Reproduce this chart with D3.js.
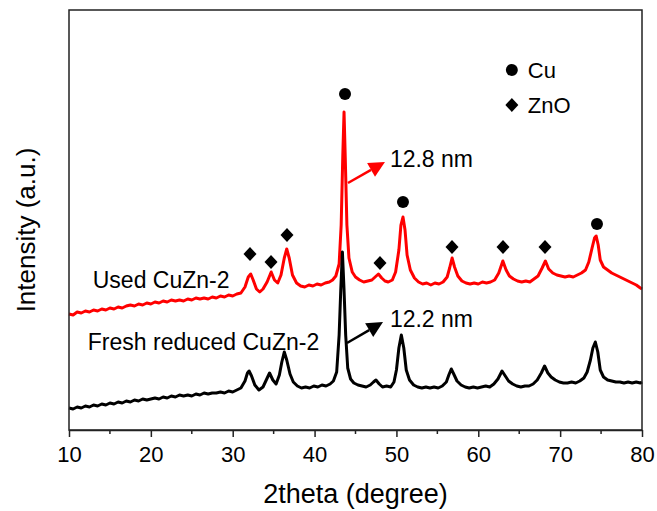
<!DOCTYPE html>
<html>
<head>
<meta charset="utf-8">
<script src="https://cdn.jsdelivr.net/npm/d3@7"></script>
<style>
  body { margin: 0; background: #fff; }
  svg text { font-family: "Liberation Sans", Arial, sans-serif; fill: #000; }
</style>
</head>
<body>
<svg id="xrd_chart"></svg>
<script>
// 2theta / intensity pairs (intensity in arbitrary units)
const usedPattern = [
  [10,116],[10.5,115],[11,118],[11.5,117],[12,119],[12.5,118],[13,120],[13.5,119],[14,121],[14.5,120],
  [15,122],[15.5,121],[16,123],[16.5,122],[17,124],[17.5,125],[18,124],[18.5,126],[19,125],[19.5,127],
  [20,126],[20.5,128],[21,127],[21.5,129],[22,128],[22.5,130],[23,129],[23.5,130],[24,129],[24.5,131],
  [25,130],[25.5,132],[26,131],[26.5,132],[27,131],[27.5,133],[28,132],[28.5,134],[29,133],[29.5,135],
  [30,134],[30.5,136],[31,137],[31.5,143],[31.9,153],[32.2,156],[32.5,150],[32.9,141],[33.3,138],[33.7,141],
  [34.2,148],[34.7,158],[35.1,150],[35.5,147],[35.9,155],[36.3,172],[36.6,181],[36.9,172],[37.3,155],[37.8,147],
  [38.3,144],[38.8,143],[39.3,145],[39.8,144],[40.3,146],[40.8,145],[41.3,147],[41.8,148],[42.2,150],[42.6,154],
  [43.0,166],[43.25,205],[43.45,275],[43.6,318],[43.75,272],[43.95,205],[44.2,172],[44.6,158],[45.0,153],[45.5,150],
  [46,148],[46.5,149],[47,150],[47.4,153],[47.8,156],[48.2,152],[48.6,149],[49,148],[49.5,150],[49.9,158],
  [50.3,180],[50.55,205],[50.8,213],[51.05,200],[51.3,175],[51.7,160],[52.2,152],[52.7,148],[53.2,146],[53.7,147],
  [54.2,145],[54.7,147],[55.2,146],[55.7,148],[56.2,153],[56.5,162],[56.8,172],[57.1,163],[57.5,154],[58,149],
  [58.5,147],[59,146],[59.5,147],[60,146],[60.5,148],[61,147],[61.5,148],[62,150],[62.5,157],[63.0,169],
  [63.4,160],[63.8,154],[64.3,151],[64.8,149],[65.3,148],[65.8,149],[66.3,148],[66.8,151],[67.3,154],[67.8,162],
  [68.2,169],[68.6,161],[69.1,157],[69.6,155],[70.1,154],[70.6,153],[71.1,154],[71.6,153],[72.1,155],[72.6,157],
  [73.1,160],[73.5,168],[73.9,182],[74.2,192],[74.4,194],[74.65,185],[74.9,170],[75.3,163],[75.8,160],[76.3,157],
  [76.8,155],[77.3,153],[77.8,151],[78.3,149],[78.8,147],[79.3,145],[79.8,142],[80,141]
];
const freshPattern = [
  [10,22],[10.5,21],[11,23],[11.5,22],[12,24],[12.5,23],[13,25],[13.5,24],[14,26],[14.5,25],
  [15,27],[15.5,26],[16,28],[16.5,27],[17,29],[17.5,28],[18,30],[18.5,29],[19,31],[19.5,30],
  [20,31],[20.5,32],[21,31],[21.5,33],[22,32],[22.5,34],[23,33],[23.5,35],[24,34],[24.5,35],
  [25,34],[25.5,36],[26,35],[26.5,37],[27,36],[27.5,37],[28,37],[28.5,38],[29,37],[29.5,39],
  [30,38],[30.5,40],[31,42],[31.5,49],[31.8,57],[32.0,59],[32.3,54],[32.7,45],[33.2,40],[33.7,43],
  [34.1,50],[34.5,57],[34.9,50],[35.3,46],[35.7,55],[36.0,68],[36.3,78],[36.6,70],[37.0,56],[37.4,48],
  [37.9,44],[38.4,42],[38.9,43],[39.4,42],[39.9,44],[40.4,43],[40.9,45],[41.4,44],[41.9,46],[42.3,49],
  [42.7,58],[43.0,95],[43.2,140],[43.4,178],[43.6,140],[43.8,95],[44.05,62],[44.4,51],[44.8,47],[45.3,45],
  [45.8,44],[46.3,43],[46.8,45],[47.2,48],[47.5,50],[47.9,46],[48.3,43],[48.8,44],[49.3,43],[49.7,48],
  [50.0,60],[50.3,82],[50.6,95],[50.9,82],[51.2,60],[51.6,50],[52.1,45],[52.6,43],[53.1,42],[53.6,43],
  [54.1,42],[54.6,43],[55.1,42],[55.6,44],[56.1,48],[56.4,55],[56.7,61],[57.0,56],[57.4,49],[57.9,45],
  [58.4,43],[58.9,42],[59.4,43],[59.9,42],[60.4,43],[60.9,44],[61.4,43],[61.9,46],[62.4,51],[62.9,59],
  [63.3,54],[63.7,49],[64.2,46],[64.7,44],[65.2,43],[65.7,44],[66.2,44],[66.7,46],[67.2,50],[67.7,57],
  [68.1,64],[68.5,57],[68.9,53],[69.4,50],[69.9,48],[70.4,47],[70.9,47],[71.4,48],[71.9,47],[72.4,49],
  [72.9,52],[73.3,58],[73.7,70],[74.0,82],[74.3,88],[74.6,78],[74.9,60],[75.3,53],[75.8,50],[76.3,49],
  [76.8,48],[77.3,48],[77.8,47],[78.3,48],[78.8,47],[79.3,48],[79.8,47],[80,48]
];

// phase markers above the peaks
const cuPeaks = [[43.72,336],[50.8,228],[74.5,206]];
const znoPeaks = [[32.11,176],[34.68,168],[36.63,195],[47.99,167],[56.79,183],[63.02,183],[68.15,183]];

const xMajorTicks = [10,20,30,40,50,60,70,80];
const xMinorTicks = [15,25,35,45,55,65,75];

// text labels and crystallite size arrows
const sampleLabels = [
  {text: "Used CuZn-2", theta: 12.9, inten: 142},
  {text: "Fresh reduced CuZn-2", theta: 12.3, inten: 80}
];
const sizeArrows = [
  {text: "12.8 nm", from: [44.08,247], to: [48.6,268], label: [49.2,263], color: "#ff0000"},
  {text: "12.2 nm", from: [43.96,87], to: [48.36,108], label: [49.2,103], color: "#000"}
];
const legendItems = [
  {text: "Cu", shape: "circle", theta: 64.1, inten: 360},
  {text: "ZnO", shape: "diamond", theta: 64.1, inten: 325}
];

const W = 657, H = 511;
const margin = {top: 10, right: 15, bottom: 81, left: 69};

const svg = d3.select("#xrd_chart").attr("width", W).attr("height", H);

const x = d3.scaleLinear().domain([10, 80]).range([margin.left, W - margin.right]);
const y = d3.scaleLinear().domain([0, 420]).range([H - margin.bottom, margin.top]);

const line = d3.line().x(d => x(d[0])).y(d => y(d[1]));

svg.append("path")
  .datum(usedPattern)
  .attr("d", line)
  .attr("fill", "none")
  .attr("stroke", "#ff0000")
  .attr("stroke-width", 3)
  .attr("stroke-linejoin", "round");

svg.append("path")
  .datum(freshPattern)
  .attr("d", line)
  .attr("fill", "none")
  .attr("stroke", "#000")
  .attr("stroke-width", 3)
  .attr("stroke-linejoin", "round");

function diamond(cx, cy) {
  const hw = 6.5, hh = 7;
  return `M${cx},${cy - hh}L${cx + hw},${cy}L${cx},${cy + hh}L${cx - hw},${cy}Z`;
}

svg.append("g").selectAll("circle")
  .data(cuPeaks)
  .join("circle")
  .attr("cx", d => x(d[0]))
  .attr("cy", d => y(d[1]))
  .attr("r", 6)
  .attr("fill", "#000");

svg.append("g").selectAll("path")
  .data(znoPeaks)
  .join("path")
  .attr("d", d => diamond(x(d[0]), y(d[1])))
  .attr("fill", "#000");

// legend
const leg = svg.append("g");
legendItems.forEach(it => {
  const cx = x(it.theta), cy = y(it.inten);
  if (it.shape === "circle") {
    leg.append("circle").attr("cx", cx).attr("cy", cy).attr("r", 6).attr("fill", "#000");
  } else {
    leg.append("path").attr("d", diamond(cx, cy)).attr("fill", "#000");
  }
  leg.append("text")
    .attr("x", cx + 16)
    .attr("y", cy + 8)
    .attr("font-size", 22)
    .text(it.text);
});

svg.append("g").selectAll("text")
  .data(sampleLabels)
  .join("text")
  .attr("x", d => x(d.theta))
  .attr("y", d => y(d.inten))
  .attr("font-size", 23)
  .text(d => d.text);

// arrows with filled heads
sizeArrows.forEach(a => {
  const x1 = x(a.from[0]), y1 = y(a.from[1]);
  const x2 = x(a.to[0]), y2 = y(a.to[1]);
  const ang = Math.atan2(y2 - y1, x2 - x1);
  const headLen = 16, headHalf = 8;
  const bx = x2 - headLen * Math.cos(ang), by = y2 - headLen * Math.sin(ang);
  svg.append("line")
    .attr("x1", x1).attr("y1", y1)
    .attr("x2", bx).attr("y2", by)
    .attr("stroke", a.color)
    .attr("stroke-width", 2.5);
  const pts = [
    [x2, y2],
    [bx + headHalf * Math.sin(ang), by - headHalf * Math.cos(ang)],
    [bx - headHalf * Math.sin(ang), by + headHalf * Math.cos(ang)]
  ];
  svg.append("polygon")
    .attr("points", pts.map(p => p.join(",")).join(" "))
    .attr("fill", a.color);
  svg.append("text")
    .attr("x", x(a.label[0]))
    .attr("y", y(a.label[1]))
    .attr("font-size", 23)
    .text(a.text);
});

// frame
svg.append("rect")
  .attr("x", margin.left)
  .attr("y", margin.top)
  .attr("width", W - margin.left - margin.right)
  .attr("height", H - margin.top - margin.bottom)
  .attr("fill", "none")
  .attr("stroke", "#222")
  .attr("stroke-width", 1.5);

// x axis
const gx = svg.append("g")
  .attr("transform", `translate(0,${H - margin.bottom})`)
  .call(d3.axisBottom(x).tickValues(xMajorTicks).tickSize(7).tickPadding(9).tickSizeOuter(0));
gx.select(".domain").attr("stroke", "#222").attr("stroke-width", 1.5);
gx.selectAll(".tick line").attr("stroke", "#222").attr("stroke-width", 1.5);
gx.selectAll(".tick text")
  .attr("font-size", 22)
  .attr("font-family", "'Liberation Sans', Arial, sans-serif")
  .attr("fill", "#000");

svg.append("g")
  .attr("transform", `translate(0,${H - margin.bottom})`)
  .selectAll("line")
  .data(xMinorTicks)
  .join("line")
  .attr("x1", d => x(d)).attr("x2", d => x(d))
  .attr("y1", 0).attr("y2", 4)
  .attr("stroke", "#222")
  .attr("stroke-width", 1.5);

svg.append("text")
  .attr("x", (margin.left + W - margin.right) / 2)
  .attr("y", 503)
  .attr("text-anchor", "middle")
  .attr("font-size", 27)
  .text("2theta (degree)");

svg.append("text")
  .attr("transform", `translate(35,${(margin.top + H - margin.bottom) / 2 + 10}) rotate(-90)`)
  .attr("text-anchor", "middle")
  .attr("font-size", 26)
  .text("Intensity (a.u.)");
</script>
</body>
</html>
